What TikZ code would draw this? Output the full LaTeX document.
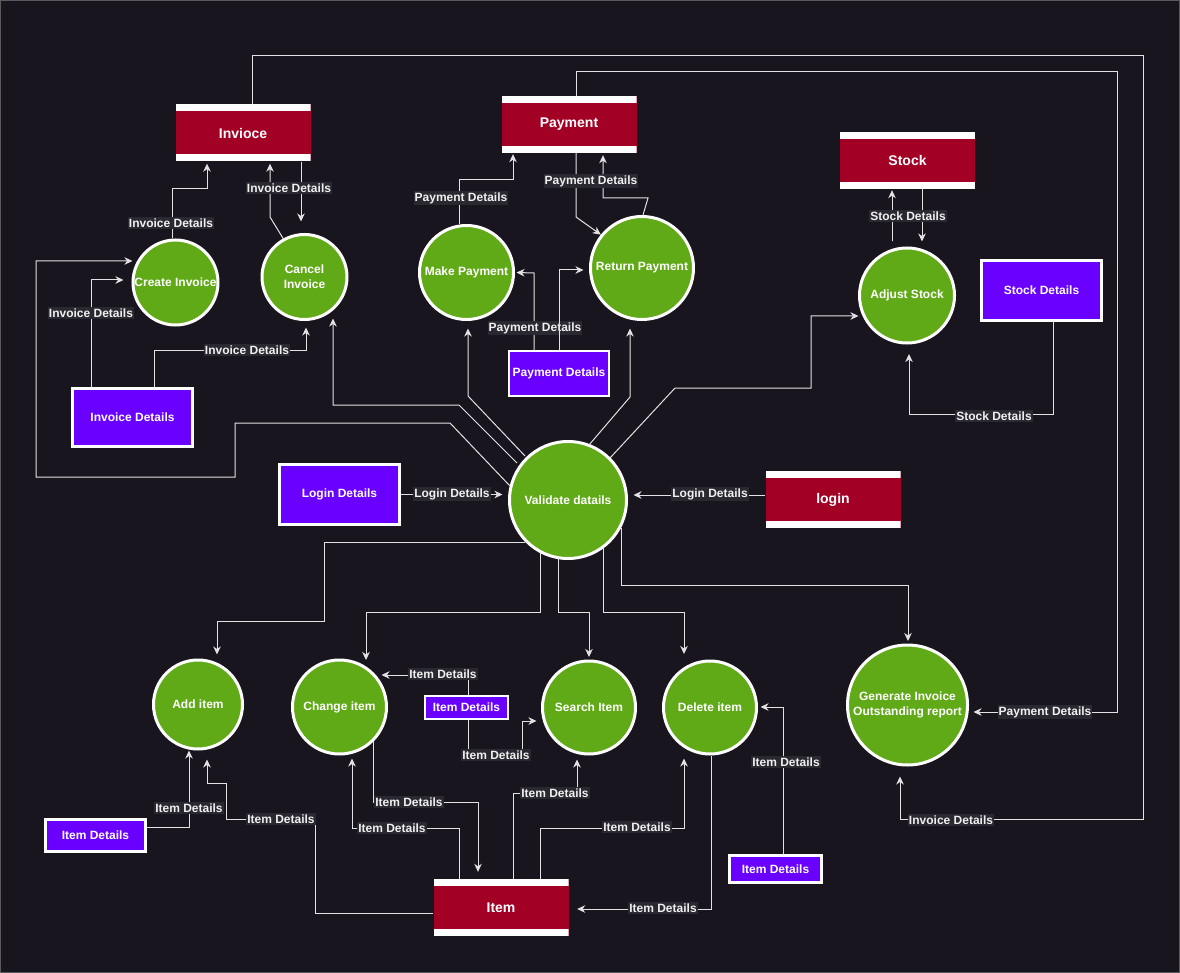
\documentclass[tikz,border=0pt]{standalone}
\usepackage{fontspec}
\setmainfont{Liberation Sans}
\usetikzlibrary{arrows.meta}
\definecolor{bgc}{HTML}{18151F}
\definecolor{framec}{HTML}{5A5A5A}
\definecolor{linec}{HTML}{E2E2E2}
\definecolor{lblbg}{HTML}{2A2830}
\definecolor{lbltxt}{HTML}{F0F0F0}
\definecolor{storered}{HTML}{A20025}
\definecolor{procgreen}{HTML}{60A917}
\definecolor{entpurple}{HTML}{6A00FF}
\tikzset{
  flow/.style={draw=linec, line width=1pt, -{Stealth[length=8pt,width=7.5pt,inset=2.5pt]}},
  lbl/.style={fill=lblbg, text=lbltxt, font=\bfseries\fontsize{12}{12}\selectfont, inner xsep=1pt, inner ysep=1.5pt},
  proc/.style={circle, fill=procgreen, draw=white, line width=3pt, text=white,
    font=\bfseries\fontsize{12}{15}\selectfont, inner sep=0pt, align=center},
  ent/.style={rectangle, fill=entpurple, draw=white, line width=3pt, text=white,
    font=\bfseries\fontsize{12}{14}\selectfont, inner sep=0pt},
  store/.style={rectangle, fill=storered, minimum width=135pt, minimum height=57pt, text=white,
    font=\bfseries\fontsize{14}{16}\selectfont, inner sep=0pt,
    path picture={
      \fill[white] (path picture bounding box.north west) rectangle ([yshift=-7pt]path picture bounding box.north east);
      \fill[white] (path picture bounding box.south west) rectangle ([yshift=7pt]path picture bounding box.south east);
    }},
}
\begin{document}
\begin{tikzpicture}[x=1pt,y=-1pt]
\fill[bgc] (0,0) rectangle (1180,973);
\useasboundingbox (0,0) rectangle (1180,973);
\draw[framec, line width=1pt] (0.5,0.5) rectangle (1179.5,972.5);

% data stores
\node[store] (inv)   at (243,133)   {Invioce};
\node[store] (pay)   at (569,124.5) {Payment};
\node[store] (stock) at (907.5,160.5) {Stock};
\node[store] (login) at (833,499.5) {login};
\node[store] (item)  at (501,907.5) {Item};

% entities
\node[ent, minimum width=120pt, minimum height=58pt] (invd) at (132.5,417.5) {Invoice Details};
\node[ent, line width=2pt, minimum width=100pt, minimum height=45pt] (payd) at (559,373.5) {Payment Details};
\node[ent, minimum width=120pt, minimum height=60pt] (stockd) at (1041.5,290.5) {Stock Details};
\node[ent, minimum width=120pt, minimum height=60pt] (logind) at (339.5,494.5) {Login Details};
\node[ent, line width=2pt, minimum width=83pt, minimum height=23pt] (itemdA) at (466.5,707.5) {Item Details};
\node[ent, minimum width=100pt, minimum height=32pt] (itemdB) at (95.5,835.5) {Item Details};
\node[ent, minimum width=92pt, minimum height=27pt] (itemdC) at (775.5,869) {Item Details};

% processes
\node[proc, minimum size=85pt] (create) at (175.5,282.5) {Create Invoice};
\node[proc, minimum size=85pt] (cancel) at (304.5,277) {Cancel\\Invoice};
\node[proc, minimum size=94pt] (makep) at (466.5,272.5) {Make Payment};
\node[proc, minimum size=103pt] (retp) at (642,268) {Return Payment};
\node[proc, minimum size=95pt] (adjust) at (907,295.5) {Adjust Stock};
\node[proc, minimum size=117pt] (validate) at (568,500) {Validate datails};
\node[proc, minimum size=89pt] (additem) at (198,704.5) {Add item};
\node[proc, minimum size=94pt] (changeitem) at (339.5,707) {Change item};
\node[proc, minimum size=93pt] (search) at (589,707.5) {Search Item};
\node[proc, minimum size=93pt] (delete) at (710,707.5) {Delete item};
\node[proc, minimum size=120pt] (gen) at (907.5,705) {Generate Invoice\\Outstanding report};

% Invoice store -> Generate report
\draw[flow] ([xshift=9pt]inv.north) -- (252,56) -- (1143,56) -- (1143,819) -- (900,819)
  -- ([xshift=-7.5pt,yshift=-10pt]gen.south)
  node[lbl] at (951,820) {Invoice Details};
% Payment store -> Generate report
\draw[flow] ([xshift=7pt]pay.north) -- (576,72) -- (1117,72) -- (1117,712)
  -- ([xshift=4.5pt,yshift=-7pt]gen.east)
  node[lbl] at (1045,712) {Payment Details};

% Create Invoice -> Invoice
\draw[flow] ([xshift=-3.5pt]create.north) -- (172,189) -- (207,189) -- ([xshift=-36pt,yshift=-2pt]inv.south)
  node[lbl] at (171,223) {Invoice Details};
% Cancel Invoice -> Invoice
\draw[flow] (cancel.119) -- (270,217) -- ([xshift=27pt,yshift=-2pt]inv.south);
% Invoice -> Cancel Invoice
\draw[flow] ([xshift=58pt]inv.south) -- ([xshift=-3.5pt,yshift=11.5pt]cancel.north)
  node[lbl] at (289,188) {Invoice Details};
% Validate -> Create Invoice (loop)
\draw[flow] ([xshift=-58pt,yshift=14pt]validate.center) -- (450,423) -- (235,423) -- (235,477) -- (36,477) -- (36,261)
  -- ([xshift=1pt,yshift=21.5pt]create.west);
% Invoice Details -> Create Invoice
\draw[flow] ([xshift=-41.5pt]invd.north) -- (91,280) -- ([xshift=-8pt,yshift=2.5pt]create.west)
  node[lbl] at (91,313) {Invoice Details};
% Invoice Details -> Cancel Invoice
\draw[flow] ([xshift=21.5pt]invd.north) -- (154,351) -- (306,351) -- ([xshift=1.5pt,yshift=-6.5pt]cancel.south)
  node[lbl] at (247,350) {Invoice Details};
% Validate -> Cancel Invoice
\draw[flow] ([xshift=-51pt,yshift=37pt]validate.center) -- (459,405) -- (333,405) -- ([xshift=28.5pt,yshift=2.5pt]cancel.south);
% Validate -> Make Payment
\draw[flow] ([xshift=-43pt,yshift=44pt]validate.center) -- (468,396) -- ([xshift=1.5pt,yshift=-7.5pt]makep.south);
% Validate -> Return Payment
\draw[flow] ([xshift=21pt,yshift=55pt]validate.center) -- (630,397) -- ([xshift=-12pt,yshift=-7.5pt]retp.south);
% Validate -> Adjust Stock
\draw[flow] ([xshift=42pt,yshift=42pt]validate.center) -- (675,388) -- (811,388) -- (811,316) -- ([xshift=0.5pt,yshift=-20.5pt]adjust.west);

% Make Payment -> Payment
\draw[flow] ([xshift=-7.5pt]makep.north) -- (459,180) -- (513,180) -- ([xshift=-56pt,yshift=-1pt]pay.south)
  node[lbl] at (461,198) {Payment Details};
% Return Payment -> Payment
\draw[flow] ([xshift=1pt]retp.north) -- (648,198) -- (603,198) -- ([xshift=34pt,yshift=-2pt]pay.south);
% Payment -> Return Payment
\draw[flow] ([xshift=7pt]pay.south) -- (576,217) -- (retp.141)
  node[lbl] at (591,181) {Payment Details};
% Payment Details -> Make Payment
\draw[flow] ([xshift=-25pt]payd.north) -- (534,273) -- ([xshift=1.5pt]makep.east)
  node[lbl] at (535,328) {Payment Details};
% Payment Details -> Return Payment
\draw[flow] (payd.north) -- (559,270) -- ([xshift=-5.5pt,yshift=-2pt]retp.west);

% Adjust Stock <-> Stock
\draw[flow] ([xshift=-15pt,yshift=5pt]adjust.north) -- ([xshift=-15.5pt,yshift=-1pt]stock.south);
\draw[flow] ([xshift=14.5pt]stock.south) -- ([xshift=15pt,yshift=5pt]adjust.north)
  node[lbl] at (908,216) {Stock Details};
% Stock Details -> Adjust Stock
\draw[flow] ([xshift=11.5pt]stockd.south) -- (1053,414) -- (909,414) -- ([xshift=2pt,yshift=-9.5pt]adjust.south)
  node[lbl] at (994,416) {Stock Details};

% Login
\draw[flow] (logind.east) -- ([xshift=-5.5pt,yshift=5.5pt]validate.west)
  node[lbl] at (452,494) {Login Details};
\draw[flow] ([yshift=4.5pt]login.west) -- ([xshift=5.5pt,yshift=5pt]validate.east)
  node[lbl] at (710,494) {Login Details};

% Validate -> item processes
\draw[flow] ([xshift=-43pt,yshift=-42pt]validate.center) -- (324,542) -- (324,621) -- (217,621) -- ([xshift=19pt,yshift=4pt]additem.north);
\draw[flow] ([xshift=-28pt,yshift=-52pt]validate.center) -- (540,612) -- (366,612) -- ([xshift=26.5pt,yshift=-1.5pt]changeitem.north);
\draw[flow] ([xshift=-10pt,yshift=-58pt]validate.center) -- (558,612) -- (589,612) -- ([yshift=2.5pt]search.north);
\draw[flow] ([xshift=35pt,yshift=-47pt]validate.center) -- (603,612) -- (684,612) -- ([xshift=-26pt,yshift=5.5pt]delete.north);
\draw[flow] ([xshift=53pt,yshift=-28pt]validate.center) -- (621,585) -- (908,585) -- ([xshift=0.5pt,yshift=2.5pt]gen.north);

% Item Details (middle)
\draw[flow] ([xshift=1.5pt]itemdA.north) -- (468,675) -- ([xshift=-6.5pt,yshift=32pt]changeitem.east)
  node[lbl] at (443,674) {Item Details};
\draw[flow] ([xshift=1.5pt]itemdA.south) -- (468,755) -- (522,755) -- (522,721) -- ([xshift=-4.5pt,yshift=-13.5pt]search.west)
  node[lbl] at (496,755) {Item Details};
% Item Details (bottom left) -> Add item
\draw[flow] ([yshift=8.5pt]itemdB.east) -- (189,827) -- ([xshift=-9pt]additem.south)
  node[lbl] at (189,808) {Item Details};
% Item -> Add item
\draw[flow] ([yshift=-5.5pt]item.west) -- (315,913) -- (315,819) -- (226,819) -- (226,783) -- (207,783) -- ([xshift=9pt,yshift=-9pt]additem.south)
  node[lbl] at (281,819) {Item Details};
% Change item -> Item
\draw[flow] (changeitem.south east) |- (478,802) -- ([xshift=-23pt,yshift=7pt]item.north)
  node[lbl] at (409,802) {Item Details};
% Item -> Change item
\draw[flow] ([xshift=-42pt]item.north) -- (459,828) -- (352,828) -- ([xshift=12.5pt,yshift=-3pt]changeitem.south)
  node[lbl] at (392,828) {Item Details};
% Item -> Search Item
\draw[flow] ([xshift=12pt]item.north) -- (513,793) -- (577,793) -- ([xshift=-12pt,yshift=-4pt]search.south)
  node[lbl] at (555,793) {Item Details};
% Item -> Delete item
\draw[flow] ([xshift=39pt]item.north) -- (540,828) -- (684,828) -- ([xshift=-26pt,yshift=-3pt]delete.south)
  node[lbl] at (637,827) {Item Details};
% Delete item -> Item
\draw[flow] ([xshift=1pt]delete.south) -- (711,909) -- ([xshift=8.5pt,yshift=-1.5pt]item.east)
  node[lbl] at (663,908) {Item Details};
% Item Details (bottom right) -> Delete item
\draw[flow] ([xshift=7.5pt]itemdC.north) -- (783,707) -- ([xshift=2.5pt,yshift=0.5pt]delete.east)
  node[lbl] at (786,762) {Item Details};
\end{tikzpicture}
\end{document}
